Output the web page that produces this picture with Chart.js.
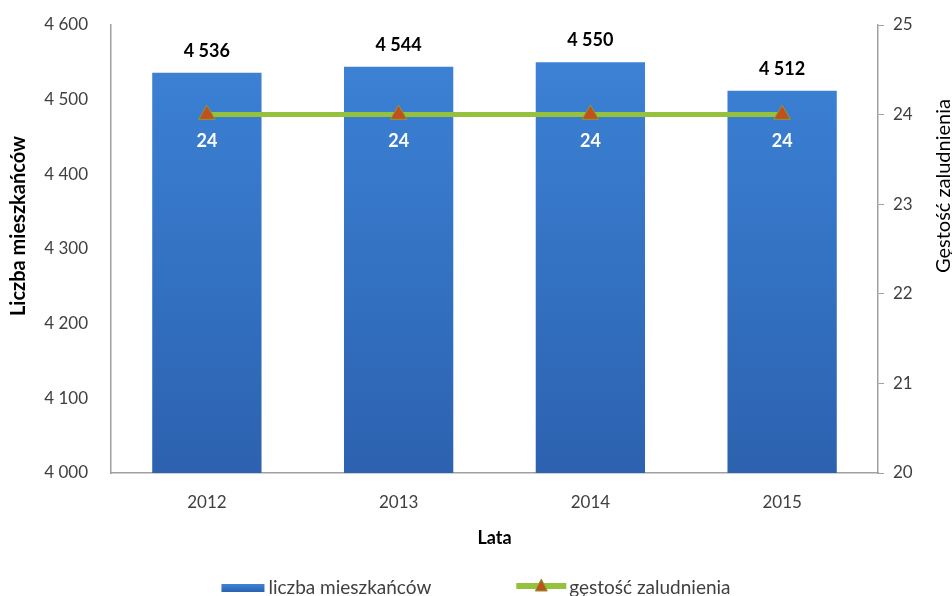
<!DOCTYPE html>
<html lang="pl">
<head>
<meta charset="utf-8">
<title>Liczba mieszkańców i gęstość zaludnienia</title>
<script src="https://cdn.jsdelivr.net/npm/chart.js@4/dist/chart.umd.min.js"></script>
<style>
  html, body { margin: 0; padding: 0; background: #ffffff; }
  #wrap { width: 952px; height: 596px; }
</style>
</head>
<body>
<div id="wrap"><canvas id="chart" width="952" height="596"></canvas></div>
<script>
// data
const years = ['2012', '2013', '2014', '2015'];
const population = [4536, 4544, 4550, 4512];
const density = [24, 24, 24, 24];

const populationLabel = 'liczba mieszkańców';
const densityLabel = 'gęstość zaludnienia';
const leftTitle = 'Liczba mieszkańców';
const rightTitle = 'Gęstość zaludnienia';
const xTitle = 'Lata';

const FONT = 'Lato, "Open Sans", sans-serif';
const TEXT = '#404040';
const AXIS = '#a0a0a0';
const GREEN = '#95c13d';
const MARKER = '#c0501e';

// "4536" -> "4 536"
function fmt(v) {
    return String(v).replace(/\B(?=(\d{3})+(?!\d))/g, ' ');
}

function barGradient(ctx) {
    const chart = ctx.chart;
    const area = chart.chartArea;
    if (!area) return '#3577c9';
    const g = chart.ctx.createLinearGradient(0, area.top, 0, area.bottom);
    g.addColorStop(0, '#3d84d8');
    g.addColorStop(1, '#2c62b0');
    return g;
}

// value labels, axis titles and legend
const extrasPlugin = {
    id: 'extras',
    afterDatasetsDraw(chart) {
        const ctx = chart.ctx;
        ctx.save();
        ctx.textAlign = 'center';
        ctx.textBaseline = 'middle';

        ctx.font = 'bold 18px ' + FONT;
        ctx.fillStyle = '#000000';
        chart.getDatasetMeta(1).data.forEach((bar, i) => {
            ctx.fillText(fmt(population[i]), bar.x, bar.y - 22);
        });

        ctx.fillStyle = '#ffffff';
        ctx.font = 'bold 18px ' + FONT;
        chart.getDatasetMeta(0).data.forEach((pt, i) => {
            ctx.fillText(String(density[i]), pt.x, pt.y + 27);
        });
        ctx.restore();
    },
    afterDraw(chart) {
        const ctx = chart.ctx;
        const area = chart.chartArea;
        ctx.save();
        ctx.fillStyle = '#000000';
        ctx.textAlign = 'center';
        ctx.textBaseline = 'middle';

        // axis titles
        ctx.font = 'bold 20px ' + FONT;
        ctx.save();
        ctx.translate(19, 226);
        ctx.rotate(-Math.PI / 2);
        ctx.fillText(leftTitle, 0, 0);
        ctx.restore();

        ctx.font = '20px ' + FONT;
        ctx.save();
        ctx.translate(944, 186);
        ctx.rotate(-Math.PI / 2);
        ctx.fillText(rightTitle, 0, 0);
        ctx.restore();

        ctx.font = 'bold 18px ' + FONT;
        ctx.fillText(xTitle, (area.left + area.right) / 2, 538);

        // legend
        ctx.font = '19px ' + FONT;
        ctx.fillStyle = TEXT;
        ctx.textAlign = 'left';
        const w1 = ctx.measureText(populationLabel).width;
        const w2 = ctx.measureText(densityLabel).width;
        const total = 43 + 4 + w1 + 85 + 50 + 3 + w2;
        const y = 588;
        let x = chart.width / 2 - total / 2;

        const g = ctx.createLinearGradient(0, y - 4, 0, y + 4);
        g.addColorStop(0, '#3d84d8');
        g.addColorStop(1, '#2c62b0');
        ctx.fillStyle = g;
        ctx.fillRect(x, y - 4, 43, 8);
        x += 47;
        ctx.fillStyle = TEXT;
        ctx.fillText(populationLabel, x, y);
        x += w1 + 85;

        ctx.strokeStyle = GREEN;
        ctx.lineWidth = 6;
        ctx.beginPath();
        ctx.moveTo(x, y - 2);
        ctx.lineTo(x + 50, y - 2);
        ctx.stroke();
        const cx = x + 25;
        ctx.fillStyle = MARKER;
        ctx.strokeStyle = '#8a9a30';
        ctx.lineWidth = 1;
        ctx.beginPath();
        ctx.moveTo(cx, y - 9);
        ctx.lineTo(cx + 6, y + 3);
        ctx.lineTo(cx - 6, y + 3);
        ctx.closePath();
        ctx.fill();
        ctx.stroke();
        x += 53;
        ctx.fillStyle = TEXT;
        ctx.fillText(densityLabel, x, y);

        ctx.restore();
    }
};

const chart = new Chart(document.getElementById('chart'), {
    data: {
        labels: years,
        datasets: [
            {
                type: 'line',
                label: densityLabel,
                data: density,
                yAxisID: 'y1',
                borderColor: GREEN,
                borderWidth: 5,
                pointStyle: 'triangle',
                pointRadius: 9.5,
                pointHoverRadius: 9.5,
                pointBackgroundColor: MARKER,
                pointBorderColor: '#8a9a30',
                pointBorderWidth: 1,
                tension: 0,
                order: 0
            },
            {
                type: 'bar',
                label: populationLabel,
                data: population,
                yAxisID: 'y',
                backgroundColor: barGradient,
                barPercentage: 0.57,
                categoryPercentage: 1,
                order: 1
            }
        ]
    },
    options: {
        responsive: false,
        animation: false,
        events: [],
        layout: { padding: { top: 25, left: 0, right: 0, bottom: 0 } },
        plugins: {
            legend: { display: false },
            tooltip: { enabled: false }
        },
        scales: {
            x: {
                offset: true,
                grid: { drawOnChartArea: false, drawTicks: false, color: AXIS },
                border: { color: AXIS, width: 1.5 },
                ticks: { color: TEXT, font: { family: FONT, size: 17 }, padding: 19 },
                afterFit: s => { s.height = 123; }
            },
            y: {
                position: 'left',
                min: 4000,
                max: 4600,
                grid: { drawOnChartArea: false, drawTicks: false, color: AXIS },
                border: { color: AXIS, width: 1.5 },
                ticks: {
                    stepSize: 100,
                    color: TEXT,
                    font: { family: FONT, size: 17 },
                    padding: 23,
                    callback: v => fmt(v)
                },
                afterFit: s => {
                    s.width = 111;
                    s.paddingTop = 10;
                    s.paddingBottom = 10;
                }
            },
            y1: {
                position: 'right',
                min: 20,
                max: 25,
                grid: { drawOnChartArea: false, drawTicks: true, tickLength: 6, color: AXIS },
                border: { color: AXIS, width: 1.5 },
                ticks: {
                    stepSize: 1,
                    color: TEXT,
                    font: { family: FONT, size: 17 },
                    padding: 9
                },
                afterFit: s => {
                    s.width = 74;
                    s.paddingTop = 10;
                    s.paddingBottom = 10;
                }
            }
        }
    },
    plugins: [extrasPlugin]
});
</script>
</body>
</html>
